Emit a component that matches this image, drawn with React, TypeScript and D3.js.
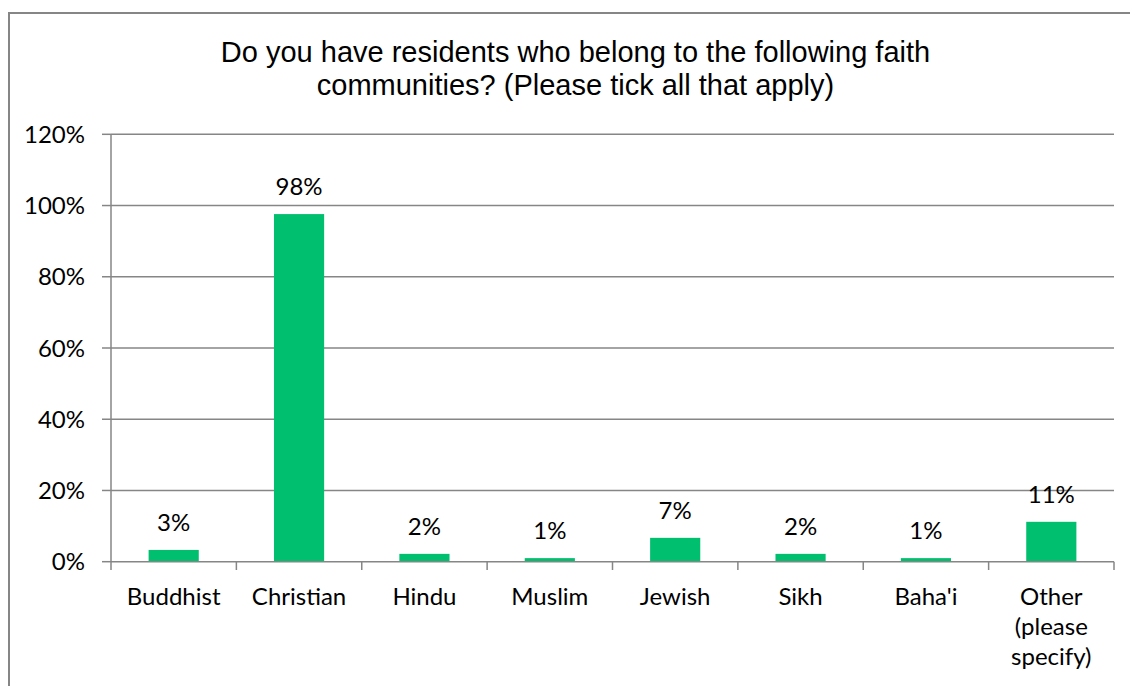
import React from "react";
import * as d3 from "d3";

const categories: string[] = ["Buddhist", "Christian", "Hindu", "Muslim", "Jewish", "Sikh", "Baha'i", "Other (please specify)"];
const categoryLines: string[][] = [["Buddhist"], ["Christian"], ["Hindu"], ["Muslim"], ["Jewish"], ["Sikh"], ["Baha'i"], ["Other", "(please", "specify)"]];
const values: number[] = [0.033, 0.976, 0.022, 0.01, 0.067, 0.022, 0.01, 0.112];
const valueLabels: string[] = ["3%", "98%", "2%", "1%", "7%", "2%", "1%", "11%"];
const yTicks: number[] = [0, 0.2, 0.4, 0.6, 0.8, 1.0, 1.2];
const titleLines: string[] = ["Do you have residents who belong to the following faith", "communities? (Please tick all that apply)"];

const W = 1130;
const H = 686;
const GRID = "#868686";
const BAR = "#00BF6F";
const LABEL_FONT = "Lato, 'Open Sans', sans-serif";

export default function App() {
  const x0 = 111, x1 = 1114, yBase = 561.7, yTop = 134.3;
  const x = d3.scaleBand<string>().domain(categories).range([x0, x1]).paddingInner(0.6).paddingOuter(0.3);
  const xb = d3.scaleBand<string>().domain(categories).range([x0, x1]);
  const y = d3.scaleLinear().domain([0, 1.2]).range([yBase, yTop]);
  const fmt = d3.format(".0%");

  return (
    <svg width={W} height={H} style={{ position: "absolute", left: 0, top: 0 }}>
      <rect x={0} y={0} width={W} height={H} fill="#fff" />
      <rect x={9} y={13} width={1140} height={700} fill="#fff" stroke={GRID} strokeWidth={2} />
      <text textAnchor="middle" fontFamily="'Liberation Sans', Arial, sans-serif" fontSize={29} fill="#000">
        {titleLines.map((t, i) => (
          <tspan key={i} x={575.5} y={61.5 + i * 33.5}>{t}</tspan>
        ))}
      </text>
      {yTicks.map((t) => (
        <g key={t}>
          {t > 0 && <line x1={x0} x2={x1} y1={y(t)} y2={y(t)} stroke={GRID} strokeWidth={1.5} />}
          <line x1={102} x2={x0} y1={y(t)} y2={y(t)} stroke={GRID} strokeWidth={1.5} />
          <text x={85} y={y(t) + 8.5} textAnchor="end" fontFamily={LABEL_FONT} fontSize={24} fill="#000">{fmt(t)}</text>
        </g>
      ))}
      <line x1={x0} x2={x0} y1={yTop} y2={yBase} stroke={GRID} strokeWidth={1.5} />
      {categories.map((c, i) => (
        <rect key={c} x={x(c)} y={y(values[i])} width={x.bandwidth()} height={yBase - y(values[i])} fill={BAR} />
      ))}
      <line x1={x0} x2={x1} y1={yBase} y2={yBase} stroke={GRID} strokeWidth={1.5} />
      {categories.map((c) => (
        <line key={c} x1={xb(c)} x2={xb(c)} y1={yBase} y2={570} stroke={GRID} strokeWidth={1.5} />
      ))}
      <line x1={x1} x2={x1} y1={yBase} y2={570} stroke={GRID} strokeWidth={1.5} />
      {categories.map((c, i) => (
        <text key={c} x={(x(c) ?? 0) + x.bandwidth() / 2} y={y(values[i]) - 19} textAnchor="middle" fontFamily={LABEL_FONT} fontSize={24} fill="#000">{valueLabels[i]}</text>
      ))}
      {categories.map((c, i) => (
        <text key={c} textAnchor="middle" fontFamily={LABEL_FONT} fontSize={24} fill="#000">
          {categoryLines[i].map((l, j) => (
            <tspan key={j} x={(xb(c) ?? 0) + xb.bandwidth() / 2} y={605 + j * 30}>{l}</tspan>
          ))}
        </text>
      ))}
    </svg>
  );
}
